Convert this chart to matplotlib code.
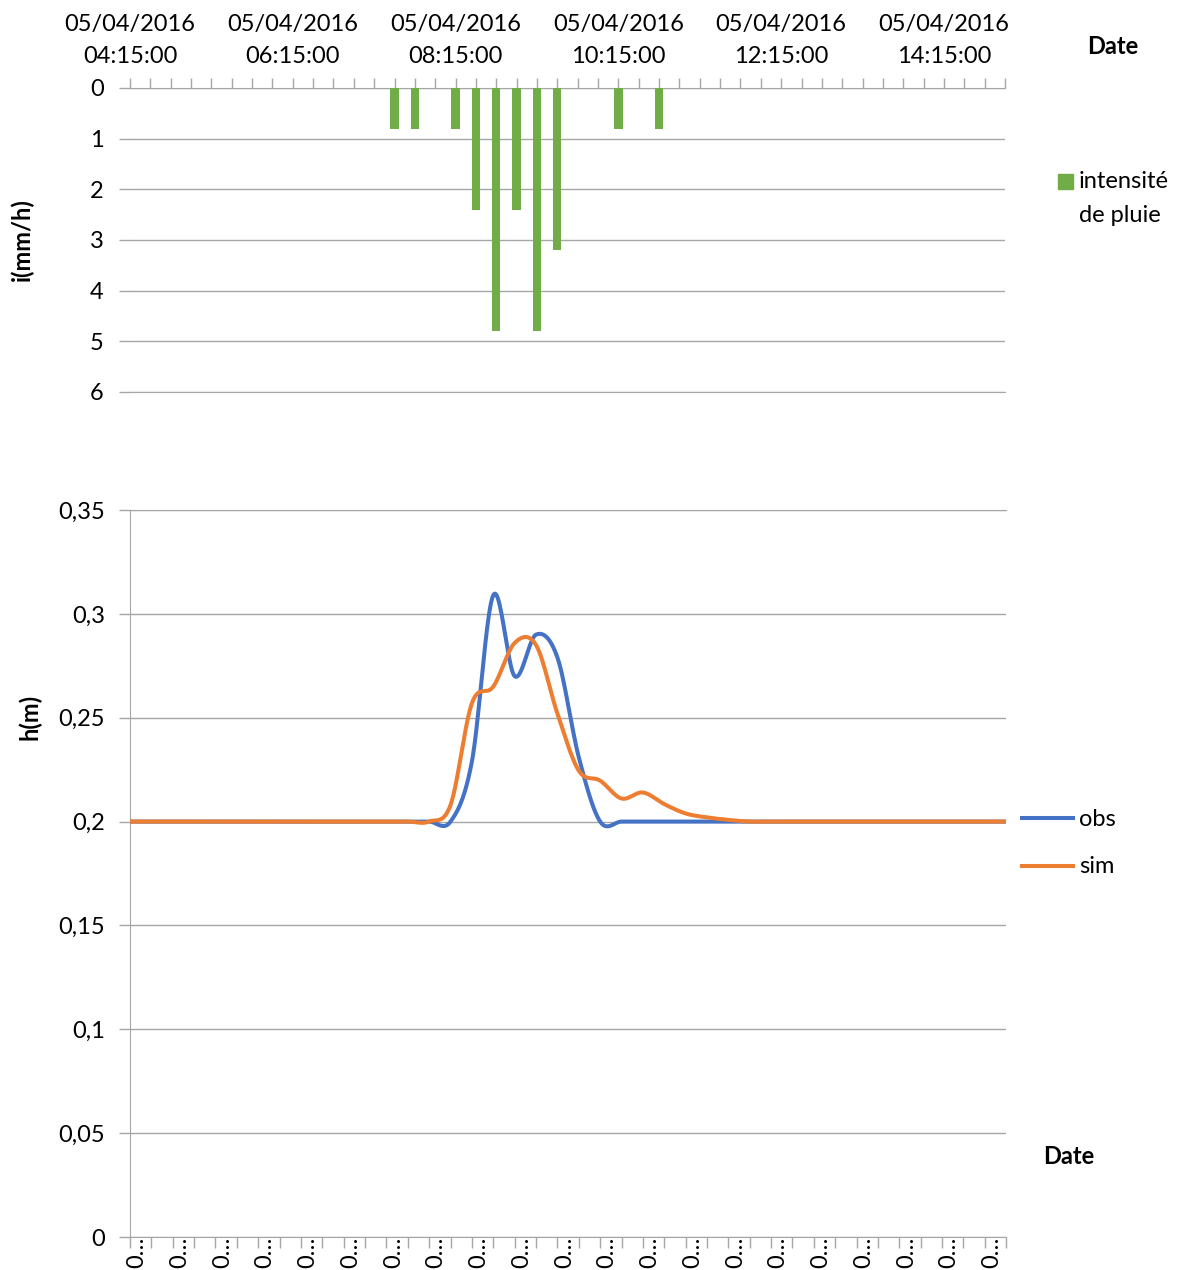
import numpy as np
import pandas as pd
import matplotlib
matplotlib.use("Agg")
import matplotlib.pyplot as plt
import matplotlib.dates as mdates
from matplotlib.lines import Line2D
from matplotlib.patches import Rectangle
from matplotlib.transforms import ScaledTranslation

plt.rcParams['font.family'] = ['Lato', 'DejaVu Sans']

# --- pluie (top chart) ---
day = "2016-04-05 "
rain_times = ["07:30", "07:45", "08:15", "08:30", "08:45", "09:00", "09:15", "09:30", "10:15", "10:45"]
rain_int = [0.8, 0.8, 0.8, 2.4, 4.8, 2.4, 4.8, 3.2, 0.8, 0.8]
t_start, t_end, t_last_label = "04:15", "15:00", "14:15"

# --- hauteurs (bottom chart), one value per category ---
h_obs = [0.2] * 16 + [0.229, 0.309, 0.270, 0.290, 0.279, 0.231] + [0.2] * 20
h_sim = ([0.2] * 15
         + [0.208, 0.257, 0.265, 0.286, 0.285, 0.252, 0.2245, 0.2197, 0.2111,
            0.214, 0.2084, 0.2039, 0.202, 0.2008]
         + [0.2] * 13)
categories = pd.date_range(day + t_start, periods=len(h_obs), freq="15min").strftime("%d/%m/%Y %H:%M:%S")

GREEN = "#70AD47"
BLUE = "#4472C4"
ORANGE = "#ED7D31"
GRID = "#a6a6a6"
FS = 17

W, H = 1182, 1270
fig = plt.figure(figsize=(W / 100, H / 100), dpi=100)


def smooth(x, y, n=24):
    # excel-like smoothed line (catmull-rom bezier)
    x = np.asarray(x, float)
    y = np.asarray(y, float)
    P = np.column_stack([x, y])
    P = np.vstack([P[0], P, P[-1]])
    out = []
    t = np.linspace(0, 1, n, endpoint=False)[:, None]
    for i in range(1, len(P) - 2):
        p0, p1, p2, p3 = P[i - 1], P[i], P[i + 1], P[i + 2]
        b1 = p1 + (p2 - p0) / 6
        b2 = p2 - (p3 - p1) / 6
        seg = ((1 - t) ** 3) * p1 + 3 * ((1 - t) ** 2) * t * b1 + 3 * (1 - t) * t ** 2 * b2 + t ** 3 * p2
        out.append(seg)
    out.append(P[-2][None, :])
    out = np.vstack(out)
    return out[:, 0], out[:, 1]


# ---------------- top: intensité de pluie ----------------
ax1 = fig.add_axes([130 / W, 1 - 392 / H, 875 / W, 304 / H])
xr = mdates.date2num(pd.to_datetime([day + t for t in rain_times]))
ax1.bar(xr, rain_int, width=0.41 / 96, color=GREEN, zorder=3)
ax1.set_xlim(mdates.date2num(pd.Timestamp(day + t_start)), mdates.date2num(pd.Timestamp(day + t_end)))
ax1.set_ylim(6, 0)
ax1.set_yticks(range(0, 7))
ax1.xaxis.tick_top()
major = pd.date_range(day + t_start, day + t_last_label, freq="2h")
minor = pd.date_range(day + t_start, day + t_end, freq="15min")
ax1.set_xticks(mdates.date2num(major))
ax1.set_xticks(mdates.date2num(minor), minor=True)
ax1.xaxis.set_major_formatter(mdates.DateFormatter("%d/%m/%Y\n%H:%M:%S"))
ax1.tick_params(axis="x", which="both", direction="out", length=7, width=1, color=GRID, top=True, bottom=False)
ax1.tick_params(axis="x", which="major", labelsize=FS, pad=8)
ax1.tick_params(axis="y", length=8, width=1, color=GRID, labelsize=FS, pad=11)
for lab in ax1.get_xticklabels():
    lab.set_linespacing(1.63)
ax1.grid(axis="y", color=GRID, lw=1, zorder=0)
for s in ["left", "right"]:
    ax1.spines[s].set_visible(False)
ax1.spines["top"].set_color(GRID)
ax1.spines["bottom"].set_color(GRID)

# ---------------- bottom: hauteurs ----------------
ax2 = fig.add_axes([130 / W, 1 - 1237 / H, 876.2 / W, 727 / H])
idx = np.arange(len(categories))
xs, ys = smooth(idx, h_obs)
ax2.plot(xs, ys, color=BLUE, lw=2.9, solid_capstyle="round", zorder=3)
xs, ys = smooth(idx, h_sim)
ax2.plot(xs, ys, color=ORANGE, lw=2.9, solid_capstyle="round", zorder=4)
ax2.set_xlim(0, len(categories) - 1)
ax2.set_ylim(0, 0.35)
yt = np.round(np.arange(0, 0.351, 0.05), 2)
ax2.set_yticks(yt)
ax2.set_yticklabels([("%g" % v).replace(".", ",") for v in yt])
ax2.set_xticks(idx)
ax2.set_xticklabels([c[0] + "\u2026" if i % 2 == 0 else "" for i, c in enumerate(categories)],
                    rotation=90, va="top", ha="center")
ax2.tick_params(axis="x", length=8, width=1, color=GRID, labelsize=FS, pad=-8)
ax2.tick_params(axis="y", length=8, width=1, color=GRID, labelsize=FS, pad=10)
shift = ScaledTranslation(7 / 100, 0, fig.dpi_scale_trans)
for lab in ax2.get_xticklabels():
    lab.set_transform(lab.get_transform() + shift)
ax2.grid(axis="y", color=GRID, lw=1, zorder=0)
ax2.spines["right"].set_visible(False)
for s in ["left", "bottom", "top"]:
    ax2.spines[s].set_color(GRID)

# ---------------- titles / legends ----------------
fig.text(1113 / W, 1 - 47 / H, "Date", fontsize=FS, fontweight="bold", ha="center", va="center")
fig.text(1069 / W, 1 - 1157 / H, "Date", fontsize=FS, fontweight="bold", ha="center", va="center")
fig.text(22 / W, 1 - 240 / H, "i(mm/h)", fontsize=FS, fontweight="bold", rotation=90, ha="center", va="center")
fig.text(30 / W, 1 - 717 / H, "h(m)", fontsize=FS, fontweight="bold", rotation=90, ha="center", va="center")

fig.add_artist(Rectangle((1058 / W, 1 - 189 / H), 14.5 / W, 14.5 / H, color=GREEN, transform=fig.transFigure))
fig.text(1079 / W, 1 - 188 / H, "intensité", fontsize=FS, ha="left", va="baseline")
fig.text(1079 / W, 1 - 222 / H, "de pluie", fontsize=FS, ha="left", va="baseline")

fig.add_artist(Line2D([1022 / W, 1073 / W], [1 - 818 / H] * 2, color=BLUE, lw=2.9, transform=fig.transFigure))
fig.add_artist(Line2D([1022 / W, 1073 / W], [1 - 866 / H] * 2, color=ORANGE, lw=2.9, transform=fig.transFigure))
fig.text(1079 / W, 1 - 826 / H, "obs", fontsize=FS, ha="left", va="baseline")
fig.text(1079 / W, 1 - 873 / H, "sim", fontsize=FS, ha="left", va="baseline")

fig.savefig("out.png", dpi=100)
